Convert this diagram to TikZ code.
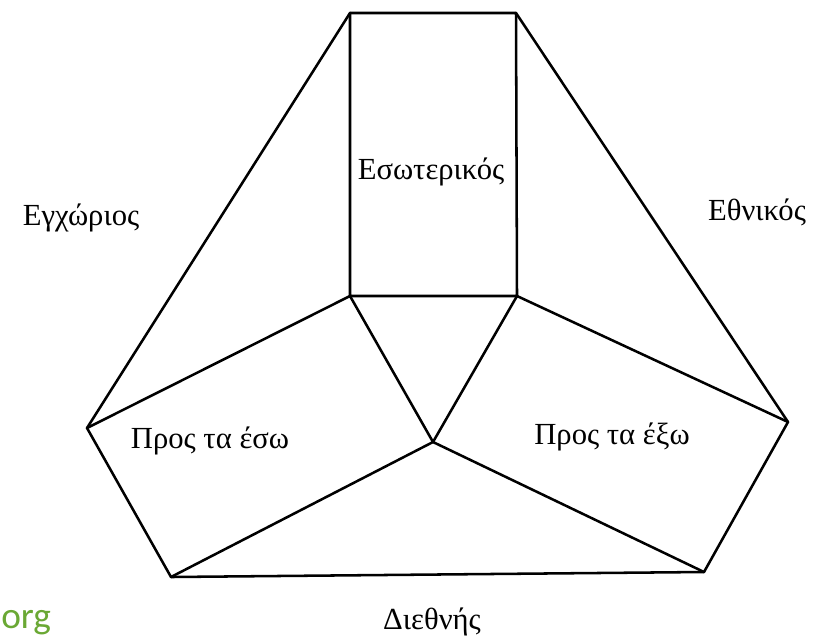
\documentclass[tikz,border=0pt]{standalone}
\usepackage{fontspec}
\setmainfont{Liberation Serif}
\newfontfamily\orgfont{Carlito}
\definecolor{orggreen}{RGB}{106,168,52}
\begin{document}
\begin{tikzpicture}[x=0.75pt,y=-0.75pt,
  edge/.style={line width=1.9pt,line join=round,line cap=round},
  lbl/.style={font=\fontsize{23}{26}\selectfont,inner sep=0pt}]
\useasboundingbox (0,0) rectangle (816,640);
\coordinate (A) at (350,13);
\coordinate (B) at (516,13);
\coordinate (C) at (350,296);
\coordinate (D) at (517,296);
\coordinate (O) at (433,442);
\coordinate (L) at (87,428);
\coordinate (R) at (788,422);
\coordinate (BL) at (171,577);
\coordinate (BR) at (704,572);
\draw[edge] (L) -- (A) -- (B) -- (R) -- (BR) -- (BL) -- cycle;
\draw[edge] (A) -- (C) -- (D) -- (B);
\draw[edge] (L) -- (C) -- (O) -- (D) -- (R);
\draw[edge] (BL) -- (O) -- (BR);
\node[lbl] (t1) at (81,218) {Εγχώριος};
\node[lbl] (t2) at (431,172) {Εσωτερικός};
\node[lbl] (t3) at (757,212) {Εθνικός};
\node[lbl] (t4) at (210,441) {Προς τα έσω};
\node[lbl] (t5) at (612,437) {Προς τα έξω};
\node[lbl] (t6) at (432,622) {Διεθνής};
\node[anchor=base west,inner sep=0pt,text=orggreen,font=\orgfont\fontsize{28}{32}\selectfont] (org) at (1,628) {org};
\end{tikzpicture}
\end{document}
